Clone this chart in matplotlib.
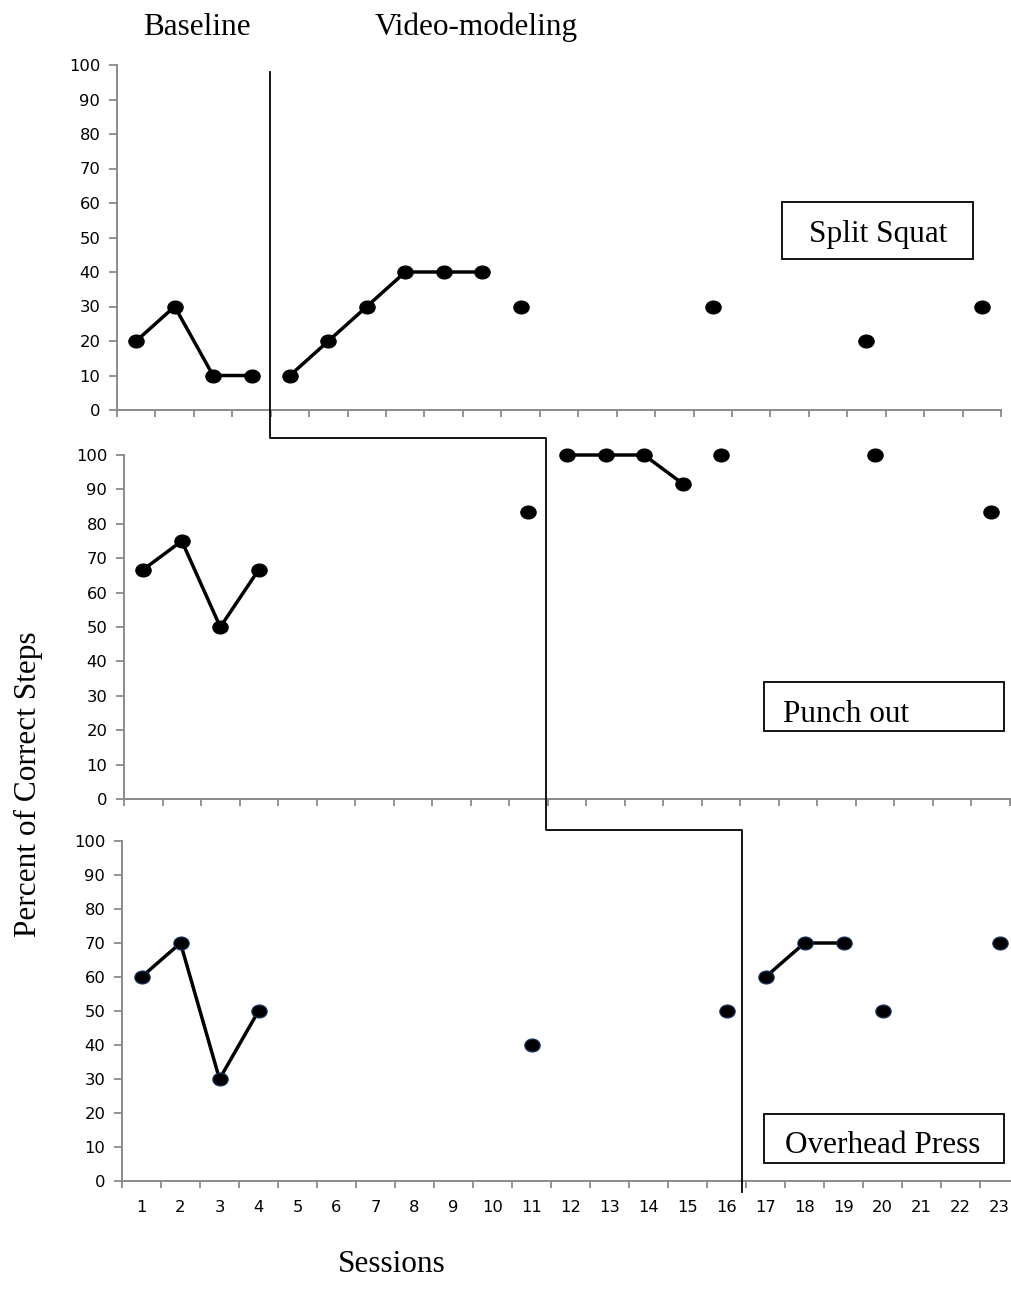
import numpy as np
import matplotlib
matplotlib.use("Agg")
import matplotlib.pyplot as plt
from matplotlib.path import Path
from matplotlib.transforms import Affine2D
from matplotlib.lines import Line2D
from matplotlib.patches import Rectangle

# ---------------- data ----------------
sessions = list(range(1, 24))
y_ticks = [0, 10, 20, 30, 40, 50, 60, 70, 80, 90, 100]

split_x = [1, 2, 3, 4, 5, 6, 7, 8, 9, 10, 11, 16, 20, 23]
split_y = [20, 30, 10, 10, 10, 20, 30, 40, 40, 40, 30, 30, 20, 30]
split_runs = [(1, 4), (5, 10)]

punch_x = [1, 2, 3, 4, 11, 12, 13, 14, 15, 16, 20, 23]
punch_y = [66.7, 75, 50, 66.7, 83.3, 100, 100, 100, 91.7, 100, 100, 83.3]
punch_runs = [(1, 4), (12, 15)]

press_x = [1, 2, 3, 4, 11, 16, 17, 18, 19, 20, 23]
press_y = [60, 70, 30, 50, 40, 50, 60, 70, 70, 50, 70]
press_runs = [(1, 4), (17, 19)]

panel_names = ["Split Squat", "Punch out", "Overhead Press"]
phase_changes = [4.5, 11.5, 16.5]

# ---------------- figure ----------------
W, H = 1011, 1305
fig = plt.figure(figsize=(W / 100, H / 100), dpi=100)


def fx(px):
    return px / W


def fy(py):
    return 1 - py / H


# axes boxes in pixels: left, right, top(y=100), bottom(y=0)
boxes = [(117, 1001, 65, 410), (124, 1010, 455, 799), (122, 1019, 841, 1181)]
axes = []
for (l, r, t, b) in boxes:
    ax = fig.add_axes([fx(l), fy(b), (r - l) / W, (b - t) / H])
    axes.append(ax)

ell = Path.unit_circle().transformed(Affine2D().scale(1, 0.84))

gray = "#8a8a8a"
tick_fs = 11.8
panels = [(split_x, split_y, split_runs, "black"),
          (punch_x, punch_y, punch_runs, "black"),
          (press_x, press_y, press_runs, "#14305e")]

for i, (ax, (xs, ys, runs, mec)) in enumerate(zip(axes, panels)):
    xs = np.array(xs)
    ys = np.array(ys)
    for (a, b) in runs:
        m = (xs >= a) & (xs <= b)
        ax.plot(xs[m], ys[m], color="black", lw=2.5, solid_capstyle="round",
                zorder=3, clip_on=False)
    ax.plot(xs, ys, ls="none", marker=ell, ms=11, mfc="black", mec=mec,
            mew=0.9, zorder=4, clip_on=False)

    ax.set_xlim(0.5, 23.5)
    ax.set_ylim(0, 100)
    for s in ["top", "right"]:
        ax.spines[s].set_visible(False)
    for s in ["left", "bottom"]:
        ax.spines[s].set_color(gray)
        ax.spines[s].set_linewidth(1.4)
    ax.set_yticks(y_ticks)
    ax.set_yticklabels([str(v) for v in y_ticks], fontsize=tick_fs,
                       family="DejaVu Sans")
    ax.set_xticks(np.arange(0.5, 24, 1.0))
    ax.set_xticks(sessions, minor=True)
    ax.tick_params(axis="x", which="major", length=5, width=1.3, color=gray,
                   labelbottom=False, direction="out")
    ax.tick_params(axis="x", which="minor", length=0, pad=14,
                   labelbottom=(i == 2), labelsize=tick_fs)
    ax.tick_params(axis="y", length=6, width=1.3, color=gray, pad=6,
                   direction="out")
    if i == 2:
        ax.set_xticklabels([str(s) for s in sessions], minor=True,
                           fontsize=tick_fs, family="DejaVu Sans")
    ax.set_facecolor("none")

# ---------------- phase-change line ----------------
to_fig = fig.transFigure.inverted()


def xpix(ax, xv):
    return ax.transData.transform((xv, 0))[0]


x1 = xpix(axes[0], phase_changes[0]) - 1
x2 = xpix(axes[1], phase_changes[1]) - 2
x3 = xpix(axes[2], phase_changes[2]) - 4
yp = [H - 72, H - 438, H - 438, H - 830, H - 830, H - 1192]
xp = [x1, x1, x2, x2, x3, x3]
pts = to_fig.transform(np.column_stack([xp, yp]))
fig.add_artist(Line2D(pts[:, 0], pts[:, 1], color="black", lw=1.3,
                      transform=fig.transFigure, zorder=10))

# ---------------- labels ----------------
serif = "Liberation Serif"
fs = 22.5
fig.text(fx(197), fy(35), "Baseline", ha="center", va="baseline",
         family=serif, fontsize=fs)
fig.text(fx(476), fy(35), "Video-modeling", ha="center", va="baseline",
         family=serif, fontsize=fs)
fig.text(fx(392), fy(1272), "Sessions", ha="center", va="baseline",
         family=serif, fontsize=fs)
fig.text(fx(28), fy(784), "Percent of Correct Steps", ha="center",
         va="center", rotation=90, family=serif, fontsize=fs)

label_boxes = [(782, 973, 202, 259), (764, 1004, 682, 731),
               (764, 1004, 1114, 1163)]
label_pos = [(878, 242, "center"), (783, 722, "left"), (785, 1153, "left")]
for (l, r, t, b), (tx, ty, ha), name in zip(label_boxes, label_pos,
                                            panel_names):
    fig.add_artist(Rectangle((fx(l), fy(b)), (r - l) / W, (b - t) / H,
                             fill=False, ec="black", lw=1.3,
                             transform=fig.transFigure, zorder=11))
    fig.text(fx(tx), fy(ty), name, ha=ha, va="baseline", family=serif,
             fontsize=fs)

fig.savefig("out.png", dpi=100)
